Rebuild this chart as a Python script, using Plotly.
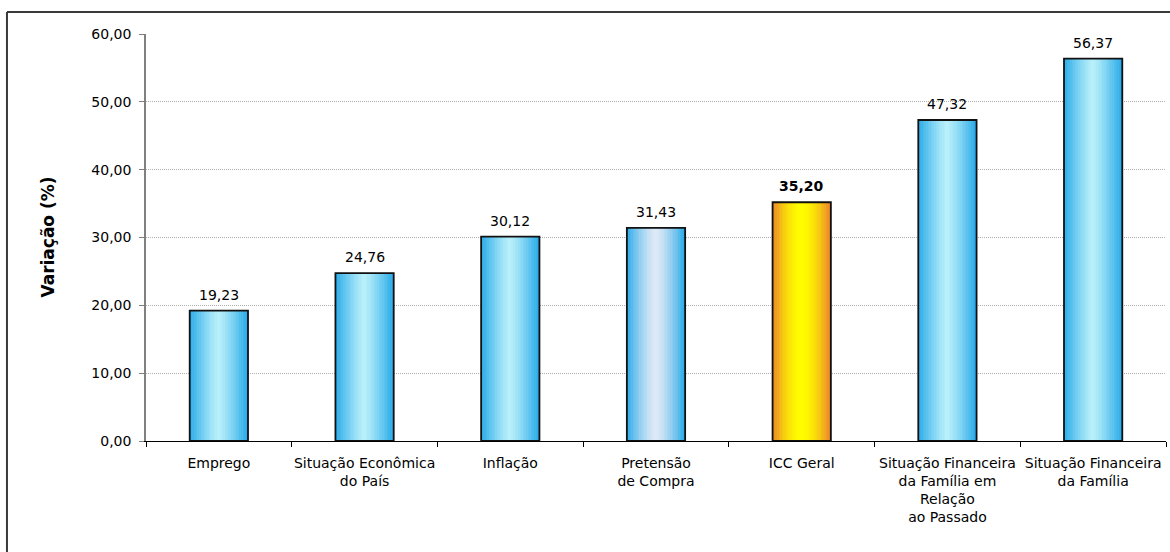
import plotly.graph_objects as go

# ---- data ----
categories = [
    "Emprego",
    "Situação Econômica<br>do País",
    "Inflação",
    "Pretensão<br>de Compra",
    "ICC Geral",
    "Situação Financeira<br>da Família em<br>Relação<br>ao Passado",
    "Situação Financeira<br>da Família",
]
values = [19.23, 24.76, 30.12, 31.43, 35.20, 47.32, 56.37]
highlight = [False, False, False, False, True, False, False]
y_ticks = [0, 10, 20, 30, 40, 50, 60]

# ---- styles ----
FONT = "DejaVu Sans, Tahoma, sans-serif"
FS = 14
BAR_W = 0.4
N_SLICES = 36
blue_edge = (40, 170, 232)
blue_center = (185, 240, 250)
pale_center = (222, 233, 246)
orange_edge = (236, 128, 44)
yellow_center = (255, 252, 0)


def lerp(a, b, t):
    return tuple(int(round(a[k] + (b[k] - a[k]) * t)) for k in range(3))


def slice_color(i, cat_idx):
    u = (i + 0.5) / N_SLICES
    d = abs(2 * u - 1)  # 0 centre, 1 edge
    if highlight[cat_idx]:
        c0, c1, p = yellow_center, orange_edge, 1.8
    elif cat_idx == 3:
        c0, c1, p = pale_center, blue_edge, 1.4
    else:
        c0, c1, p = blue_center, blue_edge, 1.2
    r, g, b = lerp(c0, c1, d ** p)
    return f"rgb({r},{g},{b})"


fig = go.Figure()
sw = BAR_W / N_SLICES
for i in range(N_SLICES):
    fig.add_trace(go.Bar(
        x=categories, y=values,
        width=sw * 1.15,
        offset=-BAR_W / 2 + i * sw,
        marker=dict(color=[slice_color(i, c) for c in range(len(categories))],
                    line=dict(width=0)),
        hoverinfo="skip", showlegend=False,
    ))

fig.add_trace(go.Bar(
    x=categories, y=values, width=BAR_W, offset=-BAR_W / 2,
    marker=dict(color="rgba(0,0,0,0)", line=dict(color="#111111", width=1.8)),
    showlegend=False,
))

labels = [(f"<b>{v:.2f}</b>" if h else f"{v:.2f}").replace(".", ",")
          for v, h in zip(values, highlight)]
value_annotations = [
    dict(x=c, y=v, text=t, xref="x", yref="y", showarrow=False,
         xanchor="center", yanchor="bottom", yshift=6,
         font=dict(family=FONT, size=FS, color="#000000"))
    for c, v, t in zip(categories, values, labels)
]

fig.update_layout(
    width=1170, height=552,
    margin=dict(l=146, r=4, t=34, b=111),
    barmode="overlay",
    paper_bgcolor="white", plot_bgcolor="white",
    separators=",.",
    font=dict(family=FONT, size=FS, color="#000000"),
    showlegend=False,
    xaxis=dict(
        type="category", tickson="boundaries", ticks="outside", ticklen=5,
        tickcolor="#000000", showline=True, linecolor="#000000", linewidth=1,
        showgrid=False, tickfont=dict(size=FS), fixedrange=True,
        ticklabelstandoff=9, tickangle=0, automargin=False,
    ),
    yaxis=dict(
        range=[0, 60], tickvals=y_ticks, tickformat=".2f",
        ticks="outside", ticklen=5, tickcolor="#808080",
        showline=True, linecolor="#808080", linewidth=1.5,
        showgrid=True, gridcolor="#B0B0B0", griddash="1px,1px", gridwidth=1,
        zeroline=False, tickfont=dict(size=FS), fixedrange=True,
        ticklabelstandoff=5, automargin=False,
    ),
    shapes=[
        dict(type="line", xref="paper", yref="paper",
             x0=-0.1363, x1=-0.1363, y0=-0.4, y1=1.054,
             line=dict(color="#3a3a3a", width=2)),
        dict(type="line", xref="paper", yref="paper",
             x0=-0.1363, x1=1.05, y0=1.054, y1=1.054,
             line=dict(color="#3a3a3a", width=2)),
    ],
    annotations=value_annotations + [
        dict(text="<b>Variação (%)</b>", xref="paper", yref="paper",
             x=-0.097, y=0.5, textangle=-90, showarrow=False,
             xanchor="center", yanchor="middle",
             font=dict(family=FONT, size=17, color="#000000")),
    ],
)

fig.write_html("out.html")
